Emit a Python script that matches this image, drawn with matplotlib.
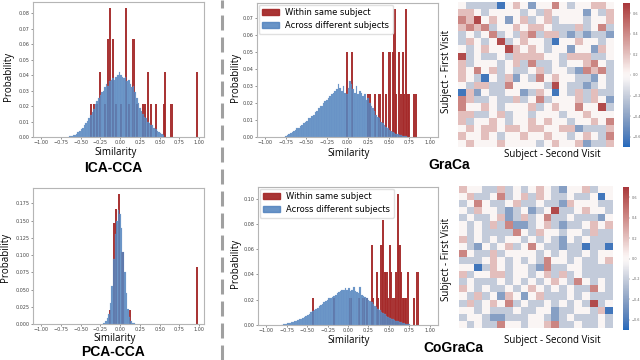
import numpy as np
import matplotlib
matplotlib.use("Agg")
import matplotlib.pyplot as plt
from matplotlib.patches import Patch
from matplotlib.lines import Line2D
import seaborn as sns

BIN = 0.02
RED = "#a52a2a"
BLUE = "#4f81bd"
CMAP = sns.color_palette("vlag", as_cmap=True)

# ---- ICA-CCA ----
ica_cross_start = -0.63
ica_cross = [0.0004, 0.0006, 0.001, 0.0016, 0.002, 0.003, 0.004, 0.005, 0.006, 0.0075,
             0.009, 0.0105, 0.012, 0.014, 0.016, 0.018, 0.021, 0.023, 0.025, 0.027,
             0.029, 0.030, 0.032, 0.034, 0.033, 0.036, 0.037, 0.038, 0.037, 0.039,
             0.040, 0.042, 0.040, 0.039, 0.038, 0.039, 0.036, 0.037, 0.034, 0.032,
             0.033, 0.029, 0.025, 0.022, 0.019, 0.017, 0.015, 0.013, 0.012, 0.010,
             0.009, 0.008, 0.0075, 0.006, 0.005, 0.004, 0.003, 0.0025, 0.002, 0.001]
ica_within_x = [-0.37, -0.33, -0.29, -0.25, -0.19, -0.15, -0.13, -0.09, -0.05, 0.01,
                0.07, 0.11, 0.17, 0.21, 0.29, 0.31, 0.35, 0.39, 0.45, 0.55, 0.57, 0.65, 0.97]
ica_within_h = [0.021, 0.021, 0.021, 0.042, 0.021, 0.063, 0.083, 0.063, 0.021, 0.021,
                0.083, 0.021, 0.063, 0.021, 0.021, 0.021, 0.042, 0.021, 0.021, 0.021, 0.042, 0.021, 0.042]

# ---- GraCa ----
gra_cross_start = -0.75
gra_cross = [0.0008, 0.0012, 0.002, 0.0025, 0.003, 0.0035, 0.004, 0.005, 0.0055, 0.0065,
             0.007, 0.008, 0.009, 0.0095, 0.011, 0.011, 0.0125, 0.013, 0.0145, 0.015,
             0.017, 0.018, 0.0185, 0.020, 0.021, 0.022, 0.023, 0.024, 0.025, 0.026,
             0.027, 0.028, 0.031, 0.029, 0.027, 0.030, 0.026, 0.025, 0.029, 0.033,
             0.031, 0.028, 0.026, 0.030, 0.025, 0.027, 0.026, 0.024, 0.025, 0.022,
             0.023, 0.020, 0.018, 0.017, 0.015, 0.013, 0.012, 0.011, 0.009, 0.008,
             0.007, 0.006, 0.005, 0.004, 0.0035, 0.003, 0.0025, 0.002, 0.0015, 0.0012,
             0.001, 0.0008, 0.0005, 0.0003]
gra_within_x = [-0.01, 0.05, 0.25, 0.27, 0.33, 0.39, 0.43, 0.47, 0.51, 0.55, 0.57, 0.59,
                0.63, 0.65, 0.67, 0.69, 0.71, 0.73, 0.75, 0.81, 0.83]
gra_within_h = [0.05, 0.05, 0.025, 0.025, 0.025, 0.025, 0.05, 0.025, 0.05, 0.05, 0.075, 0.025,
                0.05, 0.025, 0.05, 0.025, 0.075, 0.025, 0.025, 0.025, 0.025]

# ---- PCA-CCA ----
pca_cross_start = -0.20
pca_cross = [0.002, 0.004, 0.008, 0.015, 0.03, 0.055, 0.095, 0.13, 0.15, 0.165,
             0.16, 0.14, 0.105, 0.075, 0.045, 0.022, 0.01, 0.005, 0.002, 0.001]
pca_within_x = [-0.13, -0.07, -0.05, -0.01, 0.03, 0.13, 0.97]
pca_within_h = [0.021, 0.146, 0.167, 0.188, 0.104, 0.021, 0.083]

# ---- CoGraCa ----
cog_cross_start = -0.81
cog_cross = [0.0003, 0.0005, 0.0008, 0.001, 0.0012, 0.0015, 0.002, 0.0025, 0.003, 0.0035,
             0.004, 0.0045, 0.005, 0.0055, 0.0065, 0.007, 0.008, 0.009, 0.010, 0.011,
             0.012, 0.0125, 0.0135, 0.015, 0.016, 0.017, 0.018, 0.019, 0.020, 0.021,
             0.0215, 0.022, 0.023, 0.024, 0.025, 0.026, 0.027, 0.0275, 0.028, 0.029,
             0.028, 0.029, 0.027, 0.028, 0.030, 0.027, 0.026, 0.025, 0.030, 0.024,
             0.023, 0.022, 0.021, 0.020, 0.019, 0.018, 0.0165, 0.015, 0.014, 0.013,
             0.012, 0.0105, 0.0095, 0.0085, 0.0075, 0.0065, 0.0055, 0.005, 0.0045, 0.004,
             0.0035, 0.003, 0.0025, 0.002, 0.0015, 0.0012, 0.001, 0.0007, 0.0005]
cog_within_x = [-0.43, -0.17, 0.03, 0.13, 0.19, 0.23, 0.29, 0.31, 0.35, 0.37, 0.41, 0.43,
                0.45, 0.47, 0.49, 0.51, 0.53, 0.55, 0.57, 0.59, 0.61, 0.63, 0.65, 0.67,
                0.69, 0.71, 0.73, 0.81, 0.85]
cog_within_h = [0.021, 0.021, 0.021, 0.021, 0.021, 0.021, 0.063, 0.021, 0.042, 0.021, 0.063, 0.083,
                0.042, 0.042, 0.021, 0.063, 0.042, 0.021, 0.021, 0.042, 0.104, 0.063, 0.042, 0.021,
                0.021, 0.021, 0.042, 0.021, 0.042]

# subject x subject similarity, coded -3 (strong blue) .. +3 (strong red)
LEVEL = 0.21
gra_matrix = [
    [0, -1, -1, -1, -1, -3, 0, 1, 0, -2, 0, 0, 2, 0, -1, 0, 0, 1, 1, 0],
    [1, 1, 0, -1, 0, 0, 0, 0, -1, 0, -1, 1, 0, 0, 0, 0, -2, 0, -1, 1],
    [2, 1, 3, 0, 1, 0, -2, 0, 1, -1, 0, 1, -1, 0, 0, 0, -1, 0, 0, 1],
    [1, 2, 1, 2, -1, 0, 0, 1, 0, 1, 1, 0, -1, -1, -1, 1, -1, 0, 2, -1],
    [-1, 0, -1, 0, 2, -1, 0, -1, 1, 2, -1, 1, 1, -1, -2, -1, -2, -1, -1, -2],
    [-1, 1, 0, -1, 0, 3, -1, 0, 1, 0, 0, -1, -3, 0, 0, 1, 0, 0, -1, 0],
    [0, -1, 0, 1, 0, 0, 3, 1, 0, 1, 0, -1, 0, 0, -2, 0, 0, -2, 1, 0],
    [3, -1, 0, -1, -1, 0, -1, 1, 1, 1, 1, 0, 0, -1, 1, 1, 1, -1, -1, 0],
    [1, -1, 0, 0, 0, -1, 0, 1, -1, 2, -1, -1, 0, -1, 0, 0, 1, 2, 0, -1],
    [1, 0, 2, 0, 1, -1, 0, -1, -1, 0, 1, -1, 0, 0, -1, -2, 2, 1, 2, -1],
    [1, 0, -1, -3, 0, -1, 1, -2, 0, -1, 2, 0, 1, 0, 0, -1, -1, -2, 0, -1],
    [0, -1, 1, 1, -1, -1, 2, 0, 0, 0, 0, -1, 3, 0, -1, -1, -2, -1, 0, -1],
    [-3, 1, -2, 0, -1, -1, 0, 0, -2, -1, 1, 0, -3, 0, -1, 1, -1, 1, -1, -1],
    [2, 1, -1, -1, 0, -1, -1, 1, -1, 0, 2, -1, 0, 0, 0, 1, -1, 1, 0, -2],
    [2, 0, 0, 1, 0, -1, 0, 0, 0, 1, -1, 0, 1, 0, 0, 2, 0, 0, 3, -1],
    [1, 1, -1, -1, 0, 1, -1, 0, 0, -1, 0, 0, 0, -1, 0, 0, 1, 0, 0, 0],
    [1, -1, 0, 0, 1, 0, -1, 0, 0, 1, 0, 1, 0, 0, -1, 0, 0, 1, 0, 2],
    [0, 1, 0, 1, 1, 0, 1, 1, 0, 1, 1, 0, 0, 1, 1, -2, -1, -1, -1, 1],
    [1, 0, 0, 1, 0, -1, 0, 0, 1, 0, 0, 1, 0, 0, -1, 0, 1, 0, -1, 2],
    [0, 1, 0, 0, 0, 1, 0, 0, 0, 0, -1, 0, 1, 0, 0, 1, -2, -1, -1, 1],
]
cog_matrix = [
    [1, 0, 0, -1, -1, 1, -1, 0, -1, 0, 1, 0, -1, -2, 0, 0, 1, -1, 0, 0],
    [0, 1, -1, -1, 0, 2, -1, 0, 1, -1, 1, 0, -1, -1, 0, -1, -1, 0, -3, 0],
    [-1, 0, 2, 0, -1, -1, 0, 1, -1, -1, 0, -1, -1, -2, 1, 0, 0, 0, -1, -1],
    [0, -1, 1, 0, 0, -1, -2, -1, 0, -2, -1, 0, 3, -1, -1, 0, 1, 0, 0, -1],
    [-1, 0, -1, -1, 0, 1, -2, -1, 1, -1, 0, 2, -1, -1, 0, -1, -1, -1, -2, 0],
    [0, -1, 0, -1, 1, -1, 2, -2, -2, -1, 0, 1, -1, -2, -1, -1, 0, 1, 0, 1],
    [0, -1, 0, -1, -1, -1, -1, 2, 0, -1, 1, 0, 0, -1, 0, 0, -1, 1, -1, -1],
    [1, -1, 0, -1, 0, -1, 0, 0, -1, 0, -1, 0, -1, -2, 0, -1, 0, -1, -1, -1],
    [0, -1, -2, 0, -1, 0, 1, -1, 0, 2, 0, -1, -1, -2, -1, -1, -3, -1, -1, -3],
    [2, 0, -1, -1, 1, -1, 0, 0, 0, 0, -1, 0, -1, 0, -1, -1, 0, -1, 0, 0],
    [-1, -1, -1, 0, 1, 0, -1, 0, -1, 0, -1, 2, 0, 0, -1, 0, -1, -1, 0, 1],
    [0, 0, -3, -1, 1, 0, -1, 0, 0, -1, -2, 2, -1, -1, 0, 0, -1, -1, -1, -1],
    [1, -1, 0, 0, 1, 1, -1, 0, 0, -1, 0, 1, -1, 1, -1, 0, -1, -1, -1, -1],
    [-1, 0, -1, -1, -1, 0, -1, 0, -1, 0, -1, 0, 1, 0, -1, 2, 0, -1, 0, -1],
    [1, 0, -1, 0, -1, -1, 0, -1, 0, 1, 0, -1, 0, -1, 0, -1, -1, 2, 0, -1],
    [0, -1, 1, -1, 0, -2, 1, 0, -2, 0, 1, -1, -1, -1, 0, -1, 0, -1, -1, -1],
    [-1, 1, -1, 0, 1, 0, 2, -1, 0, -1, -1, 0, -1, 0, -1, 0, -1, 3, -1, 0],
    [0, 0, -1, 0, -1, -1, -1, 0, -1, -1, 0, 0, -2, -1, -1, 0, 0, -1, 1, -3],
    [-1, 0, 0, -1, -2, -2, -1, -1, -1, 0, 0, -1, -2, -1, 0, -1, -1, -1, 0, -1],
    [0, -1, 0, -1, -1, 2, 0, 0, -1, 0, 0, 1, 2, -1, -1, 0, -1, -1, 0, -1],
]

xticks = [-1.0, -0.75, -0.5, -0.25, 0.0, 0.25, 0.5, 0.75, 1.0]
cb_ticks = [-0.6, -0.4, -0.2, 0.0, 0.2, 0.4, 0.6]

fig = plt.figure(figsize=(6.4, 3.6), dpi=100)

def box(l, t, r, b):
    return fig.add_axes([l / 640, 1 - b / 360, (r - l) / 640, (b - t) / 360])

def label(x, y, s, **kw):
    fig.text(x / 640, 1 - y / 360, s, ha="center", va="center", **kw)

def hist_panel(ax, start, cross, wx, wh, yticks, xlim, legend=False):
    cx = start + BIN * np.arange(len(cross))
    ax.bar(wx, wh, width=0.027, color=RED, alpha=0.95, linewidth=0)
    ax.bar(cx, cross, width=BIN, color=BLUE, alpha=0.85, linewidth=0.15, edgecolor="#7fa3cf")
    ax.set_xlim(*xlim)
    ax.set_ylim(0, max(wh) * 1.05)
    ax.set_xticks(xticks)
    ax.set_yticks(yticks)
    ax.tick_params(labelsize=3.5, length=1.5, width=0.4, pad=1, colors="#444444")
    for s in ax.spines.values():
        s.set_color("#b5b5b5")
        s.set_linewidth(0.8)
    if legend:
        h = [Patch(color=RED, alpha=0.95), Patch(color=BLUE, alpha=0.85)]
        ax.legend(h, ["Within same subject", "Across different subjects"],
                  loc="upper left", fontsize=6, handlelength=2.0, borderaxespad=0.2,
                  framealpha=0.9, edgecolor="#dddddd")

def heat_panel(ax, cax, mat):
    im = ax.imshow(np.array(mat) * LEVEL, cmap=CMAP, vmin=-0.7, vmax=0.7,
                   aspect="auto", interpolation="nearest")
    ax.set_xticks([])
    ax.set_yticks([])
    for s in ax.spines.values():
        s.set_visible(False)
    cb = fig.colorbar(im, cax=cax, ticks=cb_ticks)
    cb.outline.set_visible(False)
    cax.tick_params(labelsize=2.5, length=1, width=0.3, pad=1, colors="#666666")

hist_panel(box(33, 2, 204, 137), ica_cross_start, ica_cross, ica_within_x, ica_within_h,
           [0, 0.01, 0.02, 0.03, 0.04, 0.05, 0.06, 0.07, 0.08], (-1.1, 1.06))
hist_panel(box(257, 3, 438, 137), gra_cross_start, gra_cross, gra_within_x, gra_within_h,
           [0, 0.01, 0.02, 0.03, 0.04, 0.05, 0.06, 0.07], (-1.1, 1.1), legend=True)
hist_panel(box(33, 188, 204, 324), pca_cross_start, pca_cross, pca_within_x, pca_within_h,
           [0, 0.025, 0.05, 0.075, 0.1, 0.125, 0.15, 0.175], (-1.1, 1.06))
hist_panel(box(258, 187, 438, 325), cog_cross_start, cog_cross, cog_within_x, cog_within_h,
           [0, 0.02, 0.04, 0.06, 0.08, 0.10], (-1.1, 1.1), legend=True)

heat_panel(box(458, 2, 614, 147), box(623, 3, 630, 147), gra_matrix)
heat_panel(box(459, 186, 613, 328), box(623, 187, 629, 330), cog_matrix)

lab = dict(fontsize=7, family="Open Sans")
label(116, 152, "Similarity", **lab)
label(349, 153, "Similarity", **lab)
label(115, 338, "Similarity", **lab)
label(349, 340, "Similarity", **lab)
label(9, 76, "Probability", rotation=90, **lab)
label(6, 257, "Probability", rotation=90, **lab)
label(235, 77, "Probability", rotation=90, **lab)
label(235, 263, "Probability", rotation=90, **lab)
label(446, 71, "Subject - First Visit", rotation=90, **lab)
label(446, 259, "Subject - First Visit", rotation=90, **lab)
label(552, 155, "Subject - Second Visit", **lab)
label(552, 340, "Subject - Second Visit", **lab)

ttl = dict(fontsize=10, fontweight="bold", family="Liberation Sans")
label(113, 168, "ICA-CCA", **ttl)
label(113, 352, "PCA-CCA", **ttl)
label(449, 165, "GraCa", **ttl)
label(453, 348, "CoGraCa", **ttl)

fig.add_artist(Line2D([221.5 / 640, 221.5 / 640], [0, 1], transform=fig.transFigure,
                      color="#a0a0a0", linewidth=2.2, linestyle=(0, (4.9, 2.3))))

fig.savefig("out.png", dpi=100)
